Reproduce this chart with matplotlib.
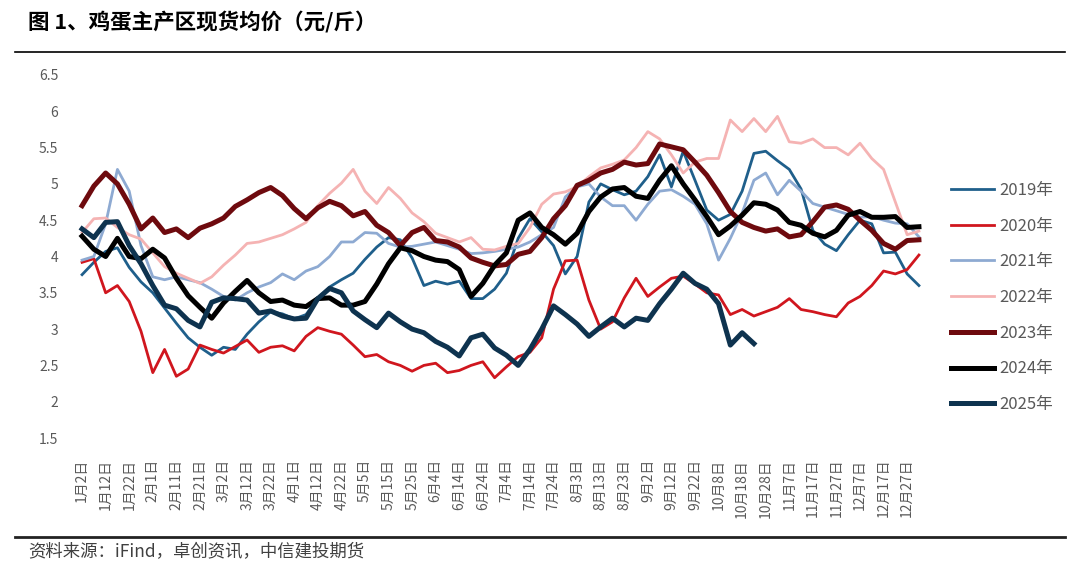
import numpy as np
import matplotlib
matplotlib.use("Agg")
import matplotlib.pyplot as plt
from matplotlib.lines import Line2D

plt.rcParams['font.family'] = ['Noto Sans CJK SC', 'DejaVu Sans']

# tick labels on the category axis, one every ~10 days
tick_labels = ['1月2日', '1月12日', '1月22日', '2月1日', '2月11日', '2月21日',
               '3月2日', '3月12日', '3月22日', '4月1日', '4月12日', '4月22日',
               '5月5日', '5月15日', '5月25日', '6月4日', '6月14日', '6月24日',
               '7月4日', '7月14日', '7月24日', '8月3日', '8月13日', '8月23日',
               '9月2日', '9月12日', '9月22日', '10月8日', '10月18日', '10月28日',
               '11月7日', '11月17日', '11月27日', '12月7日', '12月17日', '12月27日']

# prices (元/斤), two samples per tick interval
v2019 = [3.75, 3.92, 4.07, 4.12, 3.85, 3.65, 3.5, 3.29, 3.08, 2.88,
         2.75, 2.64, 2.75, 2.72, 2.93, 3.1, 3.24, 3.21, 3.14, 3.2,
         3.42, 3.58, 3.68, 3.77, 3.96, 4.13, 4.26, 4.23, 3.98, 3.6,
         3.66, 3.62, 3.66, 3.42, 3.42, 3.55, 3.77, 4.25, 4.52, 4.34,
         4.15, 3.76, 4.0, 4.75, 5.0, 4.92, 4.85, 4.9, 5.1, 5.4,
         4.96, 5.45, 5.05, 4.64, 4.5, 4.58, 4.9, 5.42, 5.45, 5.32,
         5.2, 4.93, 4.36, 4.17, 4.08, 4.3, 4.5, 4.45, 4.05, 4.06,
         3.76, 3.6]
v2020 = [3.92, 3.97, 3.5, 3.6, 3.38, 2.97, 2.4, 2.72, 2.35, 2.45,
         2.78, 2.72, 2.67, 2.76, 2.85, 2.68, 2.75, 2.77, 2.7, 2.9,
         3.02, 2.97, 2.93, 2.78, 2.62, 2.65, 2.55, 2.5, 2.42, 2.5,
         2.53, 2.4, 2.43, 2.5, 2.55, 2.33, 2.48, 2.62, 2.68, 2.88,
         3.55, 3.94, 3.95, 3.4, 3.0, 3.1, 3.43, 3.7, 3.45, 3.58,
         3.7, 3.73, 3.62, 3.5, 3.47, 3.2, 3.27, 3.18, 3.24, 3.3,
         3.42, 3.27, 3.24, 3.2, 3.17, 3.36, 3.45, 3.6, 3.8, 3.76,
         3.82, 4.02]
v2021 = [3.95, 4.0, 4.45, 5.2, 4.9, 4.15, 3.72, 3.68, 3.72, 3.68,
         3.64, 3.55, 3.45, 3.4, 3.5, 3.58, 3.64, 3.76, 3.68, 3.8,
         3.86, 4.0, 4.2, 4.2, 4.33, 4.32, 4.18, 4.13, 4.14, 4.17,
         4.2, 4.15, 4.1, 4.04, 4.05, 4.07, 4.1, 4.13, 4.2, 4.3,
         4.4, 4.82, 4.96, 5.0, 4.82, 4.7, 4.7, 4.5, 4.72, 4.9,
         4.92, 4.83, 4.72, 4.45, 3.95, 4.25, 4.6, 5.05, 5.15, 4.85,
         5.05, 4.9, 4.73, 4.68, 4.63, 4.58, 4.54, 4.55, 4.5, 4.46,
         4.45, 4.27]
v2022 = [4.33, 4.52, 4.53, 4.4, 4.3, 4.24, 4.05, 3.86, 3.77, 3.7,
         3.63, 3.72, 3.88, 4.02, 4.18, 4.2, 4.25, 4.3, 4.38, 4.47,
         4.7, 4.87, 5.01, 5.2, 4.9, 4.73, 4.95, 4.8, 4.6, 4.48,
         4.32, 4.26, 4.2, 4.26, 4.1, 4.09, 4.14, 4.18, 4.4, 4.72,
         4.86, 4.89, 4.96, 5.1, 5.22, 5.27, 5.33, 5.5, 5.72, 5.62,
         5.4, 5.15, 5.3, 5.35, 5.35, 5.88, 5.72, 5.9, 5.72, 5.93,
         5.58, 5.56, 5.62, 5.5, 5.5, 5.4, 5.56, 5.35, 5.2, 4.75,
         4.3, 4.35]
v2023 = [4.7, 4.97, 5.15, 5.0, 4.72, 4.38, 4.53, 4.33, 4.38, 4.26,
         4.39, 4.45, 4.53, 4.69, 4.78, 4.88, 4.95, 4.84, 4.66, 4.52,
         4.67, 4.76, 4.7, 4.56, 4.62, 4.43, 4.33, 4.15, 4.33, 4.4,
         4.22, 4.2, 4.13, 3.98, 3.92, 3.87, 3.89, 4.03, 4.07, 4.26,
         4.52, 4.7, 4.98, 5.05, 5.15, 5.2, 5.3, 5.26, 5.28, 5.55,
         5.51, 5.47, 5.3, 5.12, 4.88, 4.62, 4.47, 4.4, 4.35, 4.38,
         4.27, 4.3, 4.48, 4.68, 4.71, 4.65, 4.5, 4.36, 4.18, 4.1,
         4.22, 4.23]
v2024 = [4.28, 4.1, 4.0, 4.25, 4.0, 3.97, 4.1, 3.98, 3.7, 3.46,
         3.3, 3.15, 3.36, 3.52, 3.67, 3.5, 3.38, 3.4, 3.33, 3.31,
         3.42, 3.43, 3.33, 3.33, 3.38, 3.62, 3.9, 4.12, 4.08, 4.0,
         3.95, 3.93, 3.82, 3.45, 3.63, 3.88, 4.05, 4.5, 4.6, 4.4,
         4.3, 4.17, 4.32, 4.62, 4.82, 4.93, 4.95, 4.83, 4.8, 5.05,
         5.25, 5.0, 4.78, 4.55, 4.3, 4.42, 4.57, 4.74, 4.72, 4.64,
         4.47, 4.43, 4.32, 4.27, 4.36, 4.57, 4.62, 4.54, 4.54, 4.55,
         4.4, 4.41]
v2025 = [4.38, 4.26, 4.47, 4.48, 4.15, 3.9, 3.6, 3.33, 3.28, 3.12,
         3.03, 3.37, 3.43, 3.42, 3.4, 3.22, 3.25, 3.18, 3.14, 3.15,
         3.42, 3.56, 3.5, 3.25, 3.13, 3.02, 3.22, 3.1, 3.0, 2.95,
         2.83, 2.75, 2.63, 2.88, 2.93, 2.74, 2.64, 2.5, 2.72, 3.0,
         3.32, 3.2, 3.07, 2.9, 3.03, 3.15, 3.03, 3.15, 3.12, 3.35,
         3.55, 3.77, 3.63, 3.55, 3.35, 2.78, 2.95, 2.8]

series = [
    ('2019年', v2019, '#1f5f8b', 2.0),
    ('2020年', v2020, '#d0161e', 2.0),
    ('2021年', v2021, '#8eaad2', 2.0),
    ('2022年', v2022, '#f5b3b3', 2.0),
    ('2023年', v2023, '#6e0a0e', 3.6),
    ('2024年', v2024, '#000000', 3.6),
    ('2025年', v2025, '#0e334f', 3.6),
]

fig = plt.figure(figsize=(10.8, 5.69), dpi=100)
ax = fig.add_axes([75 / 1080, 1 - 438 / 569, 851 / 1080, 363 / 569])

for name, vals, col, lw in series:
    x = np.arange(len(vals)) / 2.0
    ax.plot(x, vals, color=col, lw=lw, label=name, solid_joinstyle='round')

ax.set_xlim(-0.3, 35.8)
ax.set_ylim(1.5, 6.5)
ax.set_yticks(np.arange(1.5, 6.51, 0.5))
ax.set_yticklabels(['1.5', '2', '2.5', '3', '3.5', '4', '4.5', '5', '5.5', '6', '6.5'])
ax.set_xticks(np.arange(len(tick_labels)))
ax.set_xticklabels(tick_labels, rotation=90)
ax.tick_params(axis='both', length=0, colors='#595959', labelsize=10)
ax.tick_params(axis='y', pad=12)
ax.tick_params(axis='x', pad=15)
for s in ax.spines.values():
    s.set_visible(False)

leg = fig.legend(loc='upper left', bbox_to_anchor=(936 / 1080, 1 - 167 / 569),
                 frameon=False, fontsize=12, handlelength=2.6, handletextpad=0.3,
                 labelspacing=1.12, labelcolor='#595959')

fig.text(28 / 1080, 1 - 22 / 569, '图 1、鸡蛋主产区现货均价（元/斤）', fontsize=15.5,
         fontweight='bold', va='center', ha='left')
fig.add_artist(Line2D([15 / 1080, 1065 / 1080], [1 - 52 / 569] * 2, color='black', lw=1.2))
fig.add_artist(Line2D([15 / 1080, 1065 / 1080], [1 - 537 / 569] * 2, color='#222222', lw=2))
fig.text(28 / 1080, 1 - 552 / 569, '资料来源：iFind，卓创资讯，中信建投期货', fontsize=12.5,
         color='#404040', va='center', ha='left')

fig.savefig('out.png', dpi=100)
